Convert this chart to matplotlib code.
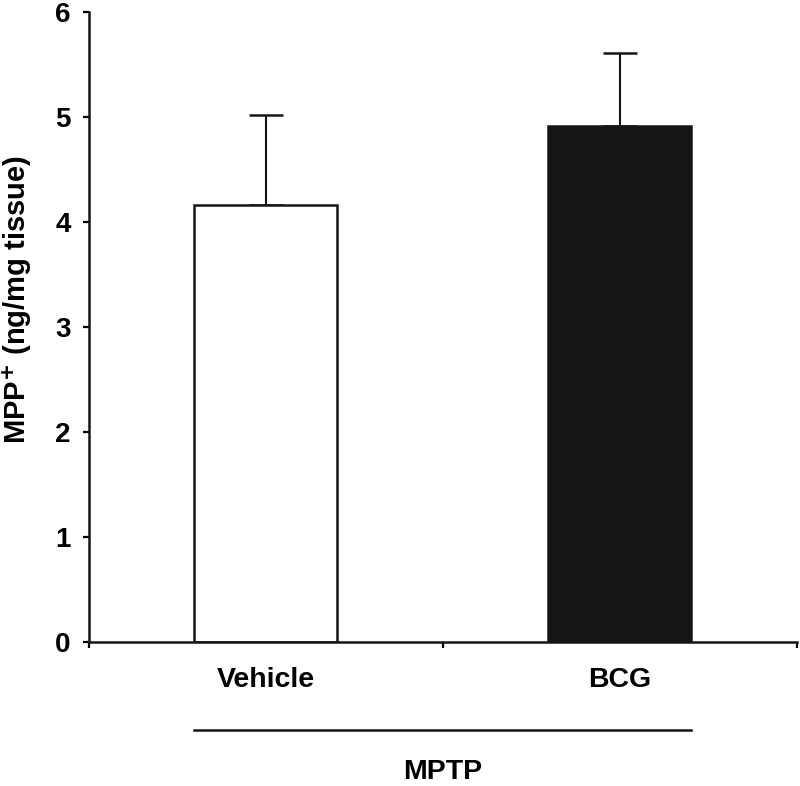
import matplotlib.pyplot as plt
import numpy as np

# data
groups = ['Vehicle', 'BCG']
mpp_mean = [4.16, 4.91]
mpp_sem = [0.86, 0.70]
bar_colors = ['white', '#151515']
yticks = [0, 1, 2, 3, 4, 5, 6]

plt.rcParams['font.family'] = ['Liberation Sans', 'DejaVu Sans']
plt.rcParams['font.weight'] = 'bold'
plt.rcParams['mathtext.default'] = 'bf'

fig = plt.figure(figsize=(8, 7.86), dpi=100)
ax = fig.add_axes([0.111, 0.1832, 0.885, 0.8015])

x = np.arange(len(groups))
width = 0.405
ax.bar(x, mpp_mean, width=width, color=bar_colors, edgecolor='#151515',
       linewidth=1.8, zorder=2)
ax.errorbar(x, mpp_mean, yerr=[np.zeros(len(x)), mpp_sem], fmt='none',
            ecolor='#151515', elinewidth=1.5, capsize=12.5, capthick=1.8, zorder=1)

ax.set_xlim(-0.5, 1.5)
ax.set_ylim(0, 6)
ax.set_yticks(yticks)
ax.set_yticklabels([str(t) for t in yticks], fontsize=20, fontweight='bold')
ax.set_xticks(x)
ax.set_xticklabels(groups, fontsize=20.5, fontweight='bold')
ax.set_xticks([-0.5, 0.5, 1.5], minor=True)
ax.tick_params(axis='x', which='major', length=0, pad=18)
ax.tick_params(axis='x', which='minor', length=4, width=1.6, direction='out')
ax.tick_params(axis='y', length=4, width=1.6, direction='out', pad=9)

for side in ['top', 'right']:
    ax.spines[side].set_visible(False)
for side in ['left', 'bottom']:
    ax.spines[side].set_linewidth(1.8)
    ax.spines[side].set_color('#151515')

fig.text(17 / 800, 1 - 300 / 786, 'MPP$^{+}$ (ng/mg tissue)', rotation=90,
         ha='center', va='center', fontsize=21, fontweight='bold')

# treatment bracket under the groups
trans = ax.get_xaxis_transform()
ax.plot([x[0] - width / 2, x[-1] + width / 2], [-0.14, -0.14], color='#151515',
        linewidth=1.8, transform=trans, clip_on=False)
ax.text(x.mean(), -0.207, 'MPTP', transform=trans, ha='center', va='center',
        fontsize=20.5, fontweight='bold')

fig.savefig('out.png', dpi=100)
